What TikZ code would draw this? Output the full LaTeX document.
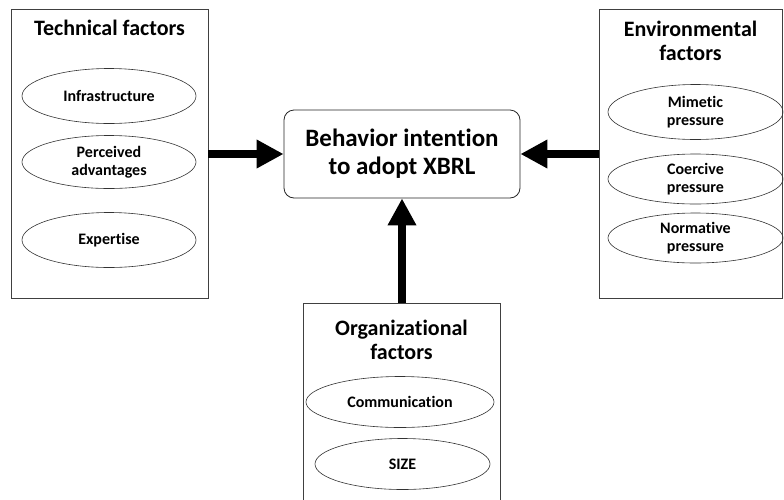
\documentclass[tikz,border=0pt]{standalone}
\usepackage{fontspec}
\setmainfont[Ligatures={NoCommon}]{Carlito}
\usetikzlibrary{arrows.meta,shapes.geometric}
\tikzset{
  factorbox/.style={draw=black!75,line width=0.8pt,fill=white,inner sep=0pt},
  factortitle/.style={font=\bfseries\fontsize{22}{24}\selectfont,align=center},
  item/.style={draw=black!80,line width=0.6pt,ellipse,inner sep=0pt,align=center,font=\bfseries\fontsize{16}{18}\selectfont},
  bigarrow/.style={line width=8pt,-{Triangle[length=27pt,width=27pt]}}
}
\begin{document}
\begin{tikzpicture}[x=1pt,y=-1pt]
		\useasboundingbox (0,0) rectangle (784,499);
		% boxes
		\node[factorbox,minimum width=197,minimum height=289] (tech) at (109.5,153.5) {};
		\node[factorbox,minimum width=183,minimum height=289] (env) at (690.5,153.5) {};
		\node[factorbox,minimum width=197,minimum height=220] (org) at (401.5,413) {};
		\node[draw=black!85,line width=0.8pt,rounded corners=10pt,minimum width=236,minimum height=88,align=center,font=\bfseries\fontsize{25}{28}\selectfont] (behav) at (402,154) {Behavior intention\\to adopt XBRL};
		% titles
		\node[factortitle] (techtitle) at (109.5,28) {Technical factors};
		\node[factortitle] (envtitle) at (690.5,41) {Environmental\\factors};
		\node[factortitle] (orgtitle) at (401.5,340) {Organizational\\factors};
		% items
		\node[item,minimum width=174,minimum height=55] (infra) at (109,96) {Infrastructure};
		\node[item,minimum width=174,minimum height=53] (adv) at (109,162) {Perceived\\advantages};
		\node[item,minimum width=174,minimum height=55] (exp) at (109,240) {Expertise};
		\node[item,minimum width=175,minimum height=55] (mim) at (695.5,112) {Mimetic\\pressure};
		\node[item,minimum width=175,minimum height=50] (coe) at (695.5,179) {Coercive\\pressure};
		\node[item,minimum width=175,minimum height=50] (nor) at (695.5,238) {Normative\\pressure};
		\node[item,minimum width=188,minimum height=51] (comm) at (400,402) {Communication};
		\node[item,minimum width=175,minimum height=51] (size) at (402.5,464) {SIZE};
		% arrows
		\draw[bigarrow] (tech.east |- behav.west) -- (behav.west);
		\draw[bigarrow] (env.west |- behav.east) -- (behav.east);
		\draw[bigarrow] (org.north -| behav.south) -- (behav.south);
\end{tikzpicture}
\end{document}
